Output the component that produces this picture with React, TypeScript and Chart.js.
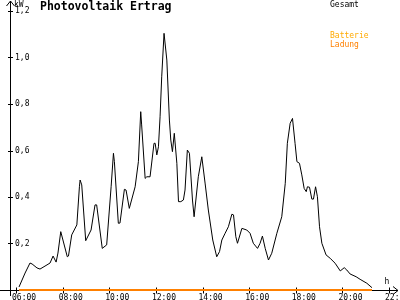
import React, { useEffect, useRef } from "react";
import { Chart, registerables } from "chart.js";

Chart.register(...registerables);

const times = [
  6.13, 6.39, 6.6, 6.69, 6.9, 7.03, 7.33, 7.46, 7.59, 7.72, 7.8, 7.92, 8.2, 8.25, 8.39, 8.61, 8.72, 8.75, 8.82, 8.99,
  9.22, 9.39, 9.46, 9.7, 9.89, 10.08, 10.18, 10.22, 10.39, 10.46, 10.65, 10.72, 10.86, 11.11, 11.25, 11.35, 11.39,
  11.54, 11.61, 11.75, 11.92, 11.97, 12.04, 12.11, 12.18, 12.25, 12.35, 12.47, 12.58, 12.64, 12.71, 12.79, 12.9,
  12.97, 13.07, 13.18, 13.25, 13.35, 13.44, 13.57, 13.64, 13.82, 13.97, 14.11, 14.25, 14.44, 14.61, 14.73, 14.83,
  14.97, 15.11, 15.26, 15.33, 15.43, 15.5, 15.69, 15.9, 16.04, 16.18, 16.36, 16.47, 16.57, 16.69, 16.83, 16.97,
  17.19, 17.4, 17.55, 17.64, 17.76, 17.86, 17.97, 18.05, 18.16, 18.26, 18.36, 18.45, 18.5, 18.59, 18.69, 18.76,
  18.85, 18.93, 19.02, 19.12, 19.3, 19.48, 19.69, 19.91, 20.08, 20.19, 20.33, 20.59, 20.76, 21.05, 21.27,
];
const gesamt = [
  0.013, 0.073, 0.116, 0.112, 0.095, 0.09, 0.108, 0.116, 0.146, 0.12, 0.159, 0.251, 0.143, 0.146, 0.237, 0.28,
  0.444, 0.473, 0.452, 0.212, 0.258, 0.366, 0.366, 0.179, 0.194, 0.444, 0.588, 0.552, 0.287, 0.288, 0.433, 0.43,
  0.351, 0.444, 0.552, 0.767, 0.71, 0.48, 0.487, 0.487, 0.631, 0.631, 0.581, 0.616, 0.745, 0.917, 1.104, 0.989,
  0.731, 0.645, 0.595, 0.674, 0.545, 0.38, 0.38, 0.387, 0.43, 0.602, 0.588, 0.387, 0.315, 0.487, 0.573, 0.46,
  0.344, 0.215, 0.143, 0.165, 0.215, 0.244, 0.272, 0.326, 0.323, 0.229, 0.201, 0.265, 0.258, 0.244, 0.201, 0.179,
  0.201, 0.232, 0.179, 0.129, 0.158, 0.244, 0.315, 0.459, 0.631, 0.717, 0.738, 0.631, 0.552, 0.545, 0.495, 0.437,
  0.423, 0.444, 0.442, 0.391, 0.391, 0.444, 0.401, 0.272, 0.201, 0.151, 0.136, 0.115, 0.082, 0.096, 0.086, 0.069,
  0.057, 0.046, 0.029, 0.01,
];
const batterieTimes = [6.13, 21.27];
const batterie = [0, 0];

const xTickValues = [6, 8, 10, 12, 14, 16, 18, 20, 22];
const xTickLabels = ["06:00", "08:00", "10:00", "12:00", "14:00", "16:00", "18:00", "20:00", "22:00"];
const yTickValues = [0.2, 0.4, 0.6, 0.8, 1.0, 1.2];
const yTickLabels = ["0,2", "0,4", "0,6", "0,8", "1,0", "1,2"];

const FONT = "DejaVu Sans Mono";

const axesPlugin = {
  id: "customAxes",
  beforeDatasetsDraw(chart: any) {
    const ctx = chart.ctx;
    const xs = chart.scales.x;
    const ys = chart.scales.y;
    const y0 = Math.round(ys.getPixelForValue(0)) + 0.5;
    const ax = 10.5;
    ctx.save();
    ctx.strokeStyle = "#000";
    ctx.lineWidth = 1;
    ctx.beginPath();
    // x axis
    ctx.moveTo(0, y0);
    ctx.lineTo(398, y0);
    ctx.moveTo(393, y0 - 4);
    ctx.lineTo(398, y0);
    ctx.lineTo(393, y0 + 4);
    // y axis
    ctx.moveTo(ax, 296);
    ctx.lineTo(ax, 1);
    ctx.moveTo(ax - 4, 6);
    ctx.lineTo(ax, 1);
    ctx.lineTo(ax + 4, 6);
    // y ticks
    yTickValues.forEach((v) => {
      const py = Math.round(ys.getPixelForValue(v)) + 0.5;
      ctx.moveTo(8, py);
      ctx.lineTo(13, py);
    });
    // x ticks
    xTickValues.forEach((v) => {
      const px = Math.round(xs.getPixelForValue(v)) + 0.5;
      ctx.moveTo(px, y0 - 3);
      ctx.lineTo(px, y0 + 3);
    });
    ctx.stroke();

    ctx.fillStyle = "#000";
    ctx.font = `8px "${FONT}"`;
    ctx.textBaseline = "middle";
    ctx.textAlign = "left";
    yTickValues.forEach((v, i) => {
      const py = ys.getPixelForValue(v);
      ctx.fillText(yTickLabels[i], 15, py);
    });
    ctx.textAlign = "left";
    ctx.textBaseline = "top";
    xTickValues.forEach((v, i) => {
      const px = xs.getPixelForValue(v);
      ctx.fillText(xTickLabels[i], px - 4, y0 + 3);
    });
    ctx.textAlign = "center";
    ctx.textBaseline = "middle";
    ctx.fillText("h", 387, 282);
    ctx.textAlign = "left";
    ctx.fillText("kW", 14, 5);

    // title
    ctx.font = `bold 11.5px "${FONT}"`;
    ctx.textBaseline = "middle";
    ctx.fillText("Photovoltaik Ertrag", 40, 7);

    // legend
    ctx.font = `8px "${FONT}"`;
    ctx.fillStyle = "#000";
    ctx.fillText("Gesamt", 330, 4.5);
    ctx.fillStyle = "#ffaa00";
    ctx.fillText("Batterie", 330, 35.5);
    ctx.fillStyle = "#ff8000";
    ctx.fillText("Ladung", 330, 44.5);
    ctx.restore();
  },
};

export default function App() {
  const ref = useRef<HTMLCanvasElement | null>(null);
  useEffect(() => {
    if (!ref.current) return;
    const chart = new Chart(ref.current, {
      type: "line",
      data: {
        datasets: [
          {
            label: "Batterie Ladung",
            data: batterieTimes.map((t, i) => ({ x: t, y: batterie[i] })),
            borderColor: "#ff8000",
            borderWidth: 2,
            pointRadius: 0,
            tension: 0,
            clip: false as any,
          },
          {
            label: "Gesamt",
            data: times.map((t, i) => ({ x: t, y: gesamt[i] })),
            borderColor: "#000000",
            borderWidth: 1,
            pointRadius: 0,
            tension: 0,
            clip: false as any,
          },
        ],
      },
      options: {
        animation: false,
        responsive: false,
        maintainAspectRatio: false,
        layout: { padding: { left: 16, top: 11, right: 11, bottom: 10 } },
        plugins: { legend: { display: false }, tooltip: { enabled: false }, title: { display: false } },
        scales: {
          x: { type: "linear", min: 6, max: 22, display: false },
          y: { type: "linear", min: 0, max: 1.2, display: false },
        },
      },
      plugins: [axesPlugin],
    });
    return () => chart.destroy();
  }, []);
  return (
    <div style={{ position: "absolute", left: 0, top: 0, width: 400, height: 300, background: "#fff" }}>
      <canvas ref={ref} width={400} height={300} style={{ width: 400, height: 300 }} />
    </div>
  );
}
